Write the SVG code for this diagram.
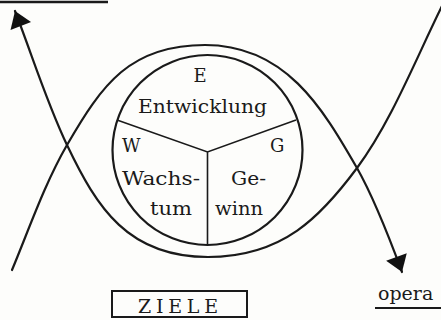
<svg xmlns="http://www.w3.org/2000/svg" width="441" height="320" viewBox="0 0 441 320">
<defs>
<style>
.c{fill:none;stroke:#1a1a1a;stroke-width:2.2;stroke-linecap:round}
.d{fill:none;stroke:#1a1a1a;stroke-width:1.6}
.t{font-family:"DejaVu Serif","Liberation Serif",serif;font-size:18px;fill:#1a1a1a}
</style>
<marker id="ah" viewBox="-17 -12 18 24" refX="0" refY="0" markerWidth="18" markerHeight="24" markerUnits="userSpaceOnUse" orient="auto-start-reverse">
<path d="M0,0 L-16,-11 L-16,11 Z" fill="#111"/>
</marker>
</defs>
<rect width="441" height="320" fill="#fdfdfb"/>
<g id="connectors">
<path id="u-curve" class="c" marker-start="url(#ah)" d="M15,11 C32.3,55.6 46.4,101.8 67,145 C97,208 128,257 208,257 C283,257 321.3,216.2 357,168 C392.7,119.8 418,53.4 445,0"/>
<path id="n-curve" class="c" marker-end="url(#ah)" d="M12,270 C29.3,228.5 44.5,184 67,145 C102,84.4 130,45 205,45 C285,45 322,107 357,168 C374,198 390,239.5 402,272"/>
</g>
<g id="top-rule"><line x1="0" y1="2" x2="108" y2="2" stroke="#1a1a1a" stroke-width="2.5"/></g>
<g id="ziele-circle">
<circle cx="207.5" cy="150" r="95" class="c"/>
<path class="d" d="M117,120 L207.5,152 L296,120 M207.5,152 L207.5,245"/>
</g>
<g id="node-E">
<text class="t" x="200" y="82" text-anchor="middle">E</text>
<text class="t" x="138" y="113" textLength="129" lengthAdjust="spacingAndGlyphs">Entwicklung</text>
</g>
<g id="node-W">
<text class="t" x="122" y="152">W</text>
<text class="t" x="122" y="185" textLength="78" lengthAdjust="spacingAndGlyphs">Wachs-</text>
<text class="t" x="150" y="215" textLength="42" lengthAdjust="spacingAndGlyphs">tum</text>
</g>
<g id="node-G">
<text class="t" x="270" y="152">G</text>
<text class="t" x="231" y="185" textLength="35" lengthAdjust="spacingAndGlyphs">Ge-</text>
<text class="t" x="215" y="215" textLength="48" lengthAdjust="spacingAndGlyphs">winn</text>
</g>
<g id="node-ziele">
<rect x="112" y="291" width="135" height="26" fill="none" stroke="#1a1a1a" stroke-width="2"/>
<text class="t" x="138" y="313" textLength="80" lengthAdjust="spacing" style="font-size:19px">ZIELE</text>
</g>
<g id="node-opera">
<text class="t" x="378" y="300" style="font-size:19px">opera</text>
<line x1="375" y1="308" x2="441" y2="308" stroke="#1a1a1a" stroke-width="2"/>
</g>
</svg>
